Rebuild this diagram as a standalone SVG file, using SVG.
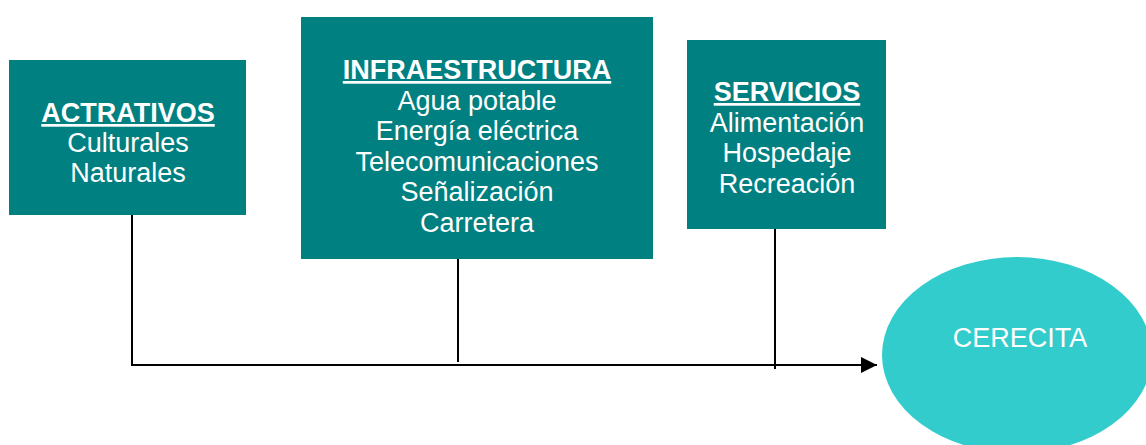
<svg xmlns="http://www.w3.org/2000/svg" width="1146" height="445" viewBox="0 0 1146 445">
<style>
.box{fill:#008080}
.t{font-family:"Liberation Sans",Arial,sans-serif;font-size:27px;fill:#ffffff;text-anchor:middle}
.h{font-weight:bold;text-decoration:underline}
.c{stroke:#000;stroke-width:2;fill:none}
</style>
<defs>
<marker id="arr" markerWidth="16" markerHeight="16" refX="16" refY="8" orient="auto" markerUnits="userSpaceOnUse">
<path d="M0,0 L16,8 L0,16 Z" fill="#000"/>
</marker>
</defs>
<rect width="1146" height="445" fill="#ffffff"/>
<g id="connectors">
<line class="c" x1="132" y1="215" x2="132" y2="366"/>
<line class="c" x1="458" y1="259" x2="458" y2="362"/>
<line class="c" x1="775" y1="229" x2="775" y2="369"/>
<line class="c" x1="131" y1="365" x2="877" y2="365" marker-end="url(#arr)"/>
</g>
<g id="actrativos">
<rect class="box" x="9" y="60" width="237" height="155"/>
<text class="t h" x="128" y="122">ACTRATIVOS</text>
<text class="t" x="128" y="152">Culturales</text>
<text class="t" x="128" y="182">Naturales</text>
</g>
<g id="infraestructura">
<rect class="box" x="301" y="17" width="352" height="242"/>
<text class="t h" x="477" y="79">INFRAESTRUCTURA</text>
<text class="t" x="477" y="110">Agua potable</text>
<text class="t" x="477" y="140">Energía eléctrica</text>
<text class="t" x="477" y="171">Telecomunicaciones</text>
<text class="t" x="477" y="201">Señalización</text>
<text class="t" x="477" y="232">Carretera</text>
</g>
<g id="servicios">
<rect class="box" x="687" y="40" width="199" height="189"/>
<text class="t h" x="787" y="101">SERVICIOS</text>
<text class="t" x="787" y="132">Alimentación</text>
<text class="t" x="787" y="162">Hospedaje</text>
<text class="t" x="787" y="193">Recreación</text>
</g>
<g id="cerecita">
<ellipse cx="1017" cy="355" rx="135" ry="98" fill="#33CCCC"/>
<text class="t" x="1020" y="347">CERECITA</text>
</g>
</svg>
